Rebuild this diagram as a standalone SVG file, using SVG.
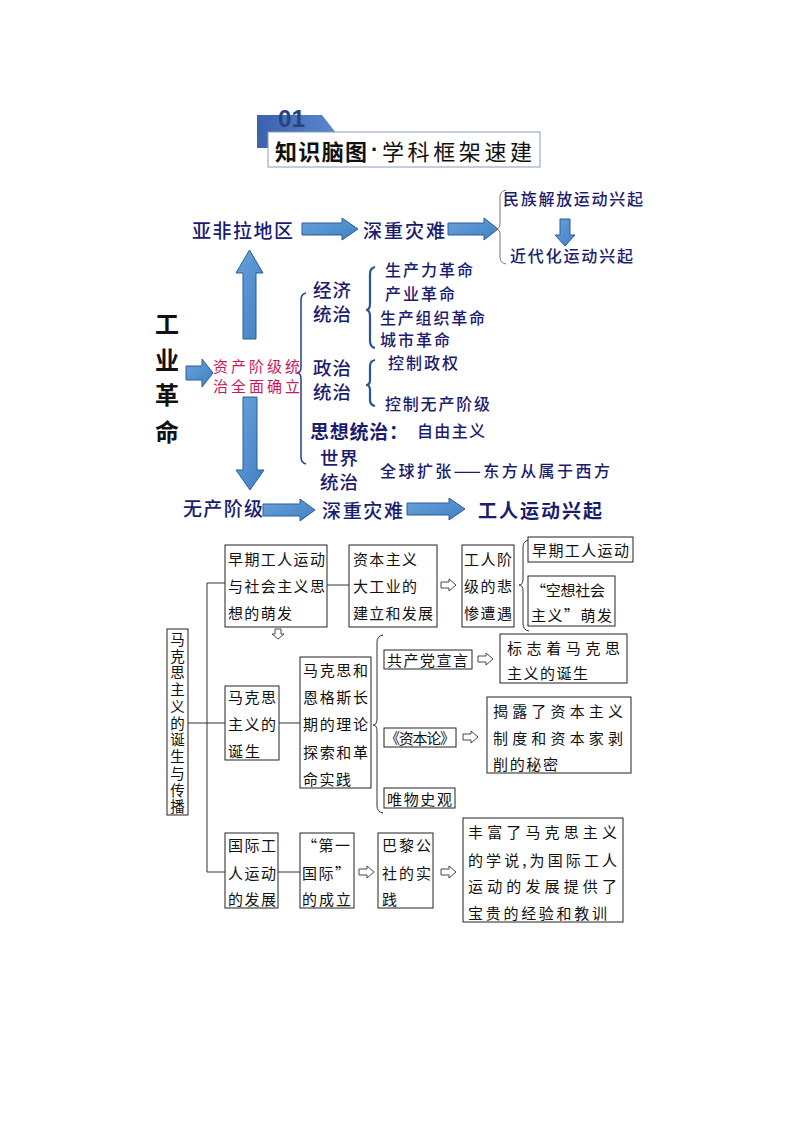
<svg xmlns="http://www.w3.org/2000/svg" width="794" height="1123" viewBox="0 0 794 1123">
<defs>
<linearGradient id="blueFill" x1="0" y1="0" x2="1" y2="1">
<stop offset="0" stop-color="#6aa3dc"/>
<stop offset="1" stop-color="#3f7fc2"/>
</linearGradient>
<linearGradient id="hdrFill" x1="0" y1="0" x2="1" y2="0">
<stop offset="0" stop-color="#3a62ad"/>
<stop offset="1" stop-color="#5b86cc"/>
</linearGradient>
<style>
.t{font-family:'Noto Sans CJK SC','Noto Sans',sans-serif;dominant-baseline:central}
.nv{fill:#1c1c6e;font-weight:500}
.h20{font-size:19px}
.h18{font-size:18.5px}
.s17{font-size:16px}
.b{font-weight:bold}
.bk{fill:#111;font-size:15px}
.arr{fill:url(#blueFill);stroke:#2c5c96;stroke-width:1}
.box{fill:#fff;stroke:#222;stroke-width:1}
.ln{fill:none;stroke:#333;stroke-width:1}
.ha{fill:#fff;stroke:#333;stroke-width:0.9}
.brb{fill:none;stroke:#2a52a0;stroke-width:2.2}
</style>
</defs>
<rect width="794" height="1123" fill="#fff"/>

<g id="header">
<polygon points="257,115 322,115 336,133 336,148 257,148" fill="url(#hdrFill)"/>
<text x="278" y="127" font-family="'Liberation Sans',sans-serif" font-weight="bold" font-size="23" fill="#26457f" textLength="27" lengthAdjust="spacingAndGlyphs">01</text>
<rect x="268" y="132" width="272" height="35" fill="#fff" stroke="#8a9bb8" stroke-width="1"/>
<text class="t b" x="275" y="150" font-size="22" fill="#111" textLength="92" lengthAdjust="spacing">知识脑图</text>
<text x="371" y="157" font-family="'Liberation Sans',sans-serif" font-weight="bold" font-size="22" fill="#111">·</text>
<text class="t" x="382" y="150" font-size="22" fill="#111" textLength="150" lengthAdjust="spacing">学科框架速建</text>
</g>

<g id="connectors">
<path class="arr" d="M302,223 L342,223 L342,218 L358,229 L342,240 L342,235 L302,235 Z"/>
<path class="arr" d="M448,223 L484,223 L484,218 L498,229 L484,240 L484,235 L448,235 Z"/>
<path class="arr" d="M560,219 L570,219 L570,235 L575,235 L565,246 L555,235 L560,235 Z"/>
<path class="arr" d="M243,339 L243,273 L236,273 L249.5,250 L263,273 L256,273 L256,339 Z"/>
<path class="arr" d="M186,366 L202,366 L202,359 L213,373 L202,387 L202,380 L186,380 Z"/>
<path class="arr" d="M243,397 L257,397 L257,470 L264,470 L250,490 L236,470 L243,470 Z"/>
<path class="arr" d="M263,504 L300,504 L300,499 L315,510 L300,521 L300,516 L263,516 Z"/>
<path class="arr" d="M407,503 L449,503 L449,498 L465,509 L449,520 L449,515 L407,515 Z"/>
<path d="M506,190 Q500,191 500,197 L500,223 Q500,229 496,229 Q500,229 500,235 L500,257 Q500,263 506,264" fill="none" stroke="#777" stroke-width="1"/>
<path d="M306,293 Q301,294 301,300 L301,367 Q301,373 297,373 Q301,373 301,379 L301,457 Q301,463 306,464" fill="none" stroke="#1f3f8f" stroke-width="1.5"/>
<path class="brb" d="M375,267 Q370,268 370,274 L370,304 Q370,310 366,310 Q370,310 370,316 L370,341 Q370,347 375,348"/>
<path class="brb" d="M375,360 Q370,361 370,366 L370,380 Q370,385 366,385 Q370,385 370,390 L370,400 Q370,405 375,406"/>
<path class="ln" d="M225,583 L207,583 L207,872 L225,872"/>
<path class="ln" d="M188,723 L225,723"/>
<path class="ln" d="M327,585 L349,585"/>
<path class="ln" d="M279,723 L300,723"/>
<path class="ln" d="M278,872 L300,872"/>
<path d="M529,540 Q523,541 523,547 L523,579 Q523,585 519,585 Q523,585 523,591 L523,624 Q523,630 529,631" fill="none" stroke="#333" stroke-width="1"/>
<path d="M383,635 Q377,636 377,642 L377,719 Q377,725 373,725 Q377,725 377,731 L377,806 Q377,812 383,813" fill="none" stroke="#333" stroke-width="1"/>
<path class="ha" d="M441,582 L449,582 L449,579 L456,585 L449,591 L449,588 L441,588 Z"/>
<path class="ha" d="M478,656 L486,656 L486,653 L493,659 L486,665 L486,662 L478,662 Z"/>
<path class="ha" d="M463,734 L471,734 L471,731 L478,737 L471,743 L471,740 L463,740 Z"/>
<path class="ha" d="M359,869 L367,869 L367,866 L374,872 L367,878 L367,875 L359,875 Z"/>
<path class="ha" d="M441,869 L449,869 L449,866 L456,872 L449,878 L449,875 L441,875 Z"/>
<path class="ha" d="M275,629 L281,629 L281,634 L284,634 L278,639 L272,634 L275,634 Z"/>
</g>

<g id="n-yafeila"><text class="t nv h20" x="192" y="229" textLength="101" lengthAdjust="spacing">亚非拉地区</text></g>
<g id="n-zainan1"><text class="t nv h20" x="363" y="229" textLength="82" lengthAdjust="spacing">深重灾难</text></g>
<g id="n-minzu"><text class="t nv s17" x="503" y="198" textLength="140" lengthAdjust="spacing">民族解放运动兴起</text></g>
<g id="n-jindaihua"><text class="t nv s17" x="510" y="255" textLength="123" lengthAdjust="spacing">近代化运动兴起</text></g>
<g id="n-gongye">
<text class="t b" x="167" y="322" font-size="24" fill="#111" text-anchor="middle">工</text>
<text class="t b" x="167" y="358" font-size="24" fill="#111" text-anchor="middle">业</text>
<text class="t b" x="167" y="393" font-size="24" fill="#111" text-anchor="middle">革</text>
<text class="t b" x="167" y="430" font-size="24" fill="#111" text-anchor="middle">命</text>
</g>
<g id="n-zichan">
<text class="t" x="213" y="365" font-size="15" fill="#c8175d" textLength="87" lengthAdjust="spacing">资产阶级统</text>
<text class="t" x="213" y="385" font-size="15" fill="#c8175d" textLength="87" lengthAdjust="spacing">治全面确立</text>
</g>
<g id="n-jingji">
<text class="t nv h18" x="313" y="289" textLength="38" lengthAdjust="spacing">经济</text>
<text class="t nv h18" x="313" y="313" textLength="38" lengthAdjust="spacing">统治</text>
</g>
<g id="n-jingji-items">
<text class="t nv s17" x="385" y="269" textLength="88" lengthAdjust="spacing">生产力革命</text>
<text class="t nv s17" x="385" y="293" textLength="70" lengthAdjust="spacing">产业革命</text>
<text class="t nv s17" x="380" y="317" textLength="105" lengthAdjust="spacing">生产组织革命</text>
<text class="t nv s17" x="380" y="339" textLength="70" lengthAdjust="spacing">城市革命</text>
</g>
<g id="n-zhengzhi">
<text class="t nv h18" x="313" y="367" textLength="38" lengthAdjust="spacing">政治</text>
<text class="t nv h18" x="313" y="391" textLength="38" lengthAdjust="spacing">统治</text>
</g>
<g id="n-zhengzhi-items">
<text class="t nv s17" x="388" y="362" textLength="70" lengthAdjust="spacing">控制政权</text>
<text class="t nv s17" x="385" y="403" textLength="105" lengthAdjust="spacing">控制无产阶级</text>
</g>
<g id="n-sixiang">
<text class="t nv h20 b" x="310" y="430" textLength="98" lengthAdjust="spacing">思想统治：</text>
<text class="t nv s17" x="417" y="430" textLength="68" lengthAdjust="spacing">自由主义</text>
</g>
<g id="n-shijie">
<text class="t nv h18" x="320" y="457" textLength="38" lengthAdjust="spacing">世界</text>
<text class="t nv h18" x="320" y="481" textLength="38" lengthAdjust="spacing">统治</text>
<text class="t nv s17" x="380" y="470" textLength="230" lengthAdjust="spacing">全球扩张——东方从属于西方</text>
</g>
<g id="n-wuchan"><text class="t nv h20" x="183" y="507" textLength="80" lengthAdjust="spacing">无产阶级</text></g>
<g id="n-zainan2"><text class="t nv h20" x="322" y="509" textLength="81" lengthAdjust="spacing">深重灾难</text></g>
<g id="n-gongren"><text class="t nv h20 b" x="478" y="509" textLength="124" lengthAdjust="spacing">工人运动兴起</text></g>

<g id="b-root">
<rect class="box" x="167" y="629" width="21" height="186"/>
<text x="177.5" y="632" writing-mode="tb" font-family="'Noto Sans CJK SC',sans-serif" font-size="14.5" fill="#111" textLength="182" lengthAdjust="spacing">马克思主义的诞生与传播</text>
</g>
<g id="b-zaoqi">
<rect class="box" x="225" y="545" width="102" height="82"/>
<text class="t bk" x="228" y="558" textLength="97" lengthAdjust="spacing">早期工人运动</text>
<text class="t bk" x="228" y="585" textLength="97" lengthAdjust="spacing">与社会主义思</text>
<text class="t bk" x="228" y="612" textLength="64" lengthAdjust="spacing">想的萌发</text>
</g>
<g id="b-zibenzhuyi">
<rect class="box" x="349" y="545" width="88" height="82"/>
<text class="t bk" x="353" y="558" textLength="64" lengthAdjust="spacing">资本主义</text>
<text class="t bk" x="353" y="585" textLength="64" lengthAdjust="spacing">大工业的</text>
<text class="t bk" x="353" y="612" textLength="80" lengthAdjust="spacing">建立和发展</text>
</g>
<g id="b-beican">
<rect class="box" x="462" y="545" width="52" height="82"/>
<text class="t bk" x="464" y="558" textLength="48" lengthAdjust="spacing">工人阶</text>
<text class="t bk" x="464" y="585" textLength="48" lengthAdjust="spacing">级的悲</text>
<text class="t bk" x="464" y="612" textLength="48" lengthAdjust="spacing">惨遭遇</text>
</g>
<g id="b-zaoqi2">
<rect class="box" x="528" y="537" width="105" height="25"/>
<text class="t bk" x="532" y="549.5" textLength="97" lengthAdjust="spacing">早期工人运动</text>
</g>
<g id="b-kongxiang">
<rect class="box" x="528" y="576" width="87" height="50"/>
<text class="t bk" x="531" y="589" textLength="74" lengthAdjust="spacing">“空想社会</text>
<text class="t bk" x="531" y="614" textLength="81" lengthAdjust="spacing">主义”萌发</text>
</g>
<g id="b-dansheng">
<rect class="box" x="225" y="686" width="54" height="74"/>
<text class="t bk" x="228" y="696" textLength="48" lengthAdjust="spacing">马克思</text>
<text class="t bk" x="228" y="723" textLength="48" lengthAdjust="spacing">主义的</text>
<text class="t bk" x="228" y="750" textLength="32" lengthAdjust="spacing">诞生</text>
</g>
<g id="b-shijian">
<rect class="box" x="300" y="657" width="71" height="131"/>
<text class="t bk" x="303" y="669" textLength="65" lengthAdjust="spacing">马克思和</text>
<text class="t bk" x="303" y="696" textLength="65" lengthAdjust="spacing">恩格斯长</text>
<text class="t bk" x="303" y="723" textLength="65" lengthAdjust="spacing">期的理论</text>
<text class="t bk" x="303" y="751" textLength="65" lengthAdjust="spacing">探索和革</text>
<text class="t bk" x="303" y="778" textLength="48" lengthAdjust="spacing">命实践</text>
</g>
<g id="b-xuanyan">
<rect class="box" x="384" y="650" width="88" height="19"/>
<text class="t bk" x="387" y="659.5" textLength="81" lengthAdjust="spacing">共产党宣言</text>
</g>
<g id="b-biaozhi">
<rect class="box" x="500" y="634" width="127" height="49"/>
<text class="t bk" x="507" y="647" textLength="113" lengthAdjust="spacing">标志着马克思</text>
<text class="t bk" x="507" y="672" textLength="81" lengthAdjust="spacing">主义的诞生</text>
</g>
<g id="b-zibenlun">
<rect class="box" x="384" y="728" width="72" height="19"/>
<text class="t bk" x="385" y="737.5" textLength="70" lengthAdjust="spacing">《资本论》</text>
</g>
<g id="b-jielu">
<rect class="box" x="487" y="697" width="144" height="76"/>
<text class="t bk" x="493" y="710" textLength="130" lengthAdjust="spacing">揭露了资本主义</text>
<text class="t bk" x="493" y="737" textLength="130" lengthAdjust="spacing">制度和资本家剥</text>
<text class="t bk" x="493" y="763" textLength="65" lengthAdjust="spacing">削的秘密</text>
</g>
<g id="b-weiwu">
<rect class="box" x="384" y="788" width="71" height="20"/>
<text class="t bk" x="387" y="798" textLength="65" lengthAdjust="spacing">唯物史观</text>
</g>
<g id="b-guoji">
<rect class="box" x="225" y="833" width="53" height="75"/>
<text class="t bk" x="228" y="844" textLength="48" lengthAdjust="spacing">国际工</text>
<text class="t bk" x="228" y="872" textLength="48" lengthAdjust="spacing">人运动</text>
<text class="t bk" x="228" y="898" textLength="48" lengthAdjust="spacing">的发展</text>
</g>
<g id="b-diyiguoji">
<rect class="box" x="300" y="833" width="54" height="75"/>
<text class="t bk" x="302" y="844" textLength="48" lengthAdjust="spacing">“第一</text>
<text class="t bk" x="302" y="872" textLength="48" lengthAdjust="spacing">国际”</text>
<text class="t bk" x="302" y="898" textLength="49" lengthAdjust="spacing">的成立</text>
</g>
<g id="b-bali">
<rect class="box" x="378" y="833" width="55" height="75"/>
<text class="t bk" x="382" y="844" textLength="49" lengthAdjust="spacing">巴黎公</text>
<text class="t bk" x="382" y="872" textLength="49" lengthAdjust="spacing">社的实</text>
<text class="t bk" x="382" y="898" textLength="16" lengthAdjust="spacing">践</text>
</g>
<g id="b-fengfu">
<rect class="box" x="463" y="818" width="160" height="104"/>
<text class="t bk" x="468" y="831" textLength="149" lengthAdjust="spacing">丰富了马克思主义</text>
<text class="t bk" x="468" y="859" textLength="149" lengthAdjust="spacing">的学说,为国际工人</text>
<text class="t bk" x="468" y="885" textLength="149" lengthAdjust="spacing">运动的发展提供了</text>
<text class="t bk" x="468" y="912" textLength="139" lengthAdjust="spacing">宝贵的经验和教训</text>
</g>
</svg>
